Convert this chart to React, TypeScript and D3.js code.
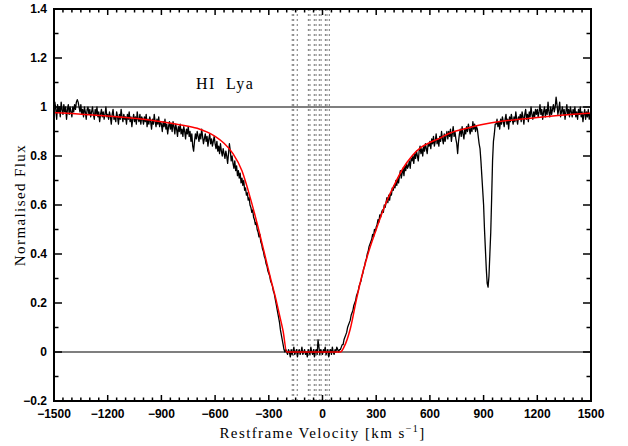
import React from "react";
import * as d3 from "d3";

// ---- Data ----
const velStart = -1500;
const velStep = 5;
// Observed normalised flux, one value every 5 km/s from -1500 to +1500 (20 values per row = 100 km/s)
const flux: number[] = [
  0.97, 1.02, 0.99, 0.95, 1.01, 0.98, 1.0, 0.96, 1.02, 0.99, 0.97, 1.01, 0.98, 1.0, 0.95, 0.99, 1.01, 0.97, 1.0, 0.98,
  0.96, 1.0, 0.98, 1.01, 0.99, 1.02, 1.03, 1.02, 1.0, 0.98, 1.01, 0.97, 0.99, 0.96, 1.0, 0.98, 0.95, 0.99, 1.0, 0.97,
  0.99, 0.96, 0.98, 1.0, 0.97, 0.95, 0.99, 0.97, 1.0, 0.96, 0.98, 0.94, 0.97, 0.99, 0.96, 0.98, 0.95, 0.97, 1.0, 0.96,
  0.97, 0.95, 0.98, 0.96, 0.93, 0.97, 0.99, 0.95, 0.96, 0.94, 0.98, 0.96, 0.93, 0.97, 0.95, 0.99, 0.96, 0.94, 0.97, 0.95,
  0.96, 0.93, 0.97, 0.95, 0.98, 0.94, 0.96, 0.92, 0.95, 0.97, 0.94, 0.96, 0.93, 0.98, 0.95, 0.94, 0.97, 0.93, 0.96, 0.95,
  0.93, 0.96, 0.94, 0.97, 0.92, 0.95, 0.93, 0.96, 0.94, 0.91, 0.95, 0.93, 0.97, 0.94, 0.92, 0.95, 0.93, 0.96, 0.92, 0.94,
  0.93, 0.9, 0.94, 0.92, 0.95, 0.91, 0.93, 0.89, 0.92, 0.94, 0.91, 0.93, 0.9, 0.94, 0.92, 0.89, 0.93, 0.91, 0.88, 0.92,
  0.9, 0.93, 0.89, 0.91, 0.88, 0.92, 0.9, 0.87, 0.91, 0.89, 0.92, 0.88, 0.9, 0.86, 0.89, 0.84, 0.82, 0.86, 0.89, 0.87,
  0.9, 0.88, 0.86, 0.89, 0.87, 0.91, 0.88, 0.85, 0.87, 0.89, 0.86, 0.88, 0.84, 0.87, 0.89, 0.85, 0.87, 0.84, 0.86, 0.88,
  0.85, 0.83, 0.86, 0.82, 0.84, 0.81, 0.85, 0.82, 0.8, 0.83, 0.81, 0.79, 0.82, 0.8, 0.77, 0.81, 0.85, 0.82, 0.78, 0.8,
  0.77, 0.75, 0.78, 0.74, 0.76, 0.72, 0.74, 0.71, 0.73, 0.69, 0.71, 0.68, 0.7, 0.66, 0.67, 0.64, 0.65, 0.62, 0.63, 0.6,
  0.59, 0.57, 0.58, 0.55, 0.54, 0.52, 0.53, 0.5, 0.49, 0.47, 0.48, 0.45, 0.44, 0.42, 0.41, 0.39, 0.38, 0.36, 0.35, 0.33,
  0.32, 0.31, 0.29, 0.28, 0.27, 0.25, 0.24, 0.22, 0.2, 0.18, 0.16, 0.14, 0.12, 0.09, 0.07, 0.05, 0.03, 0.01, 0.0, 0.01,
  0.0, -0.01, 0.01, 0.0, -0.02, 0.01, -0.01, 0.0, 0.02, -0.01, 0.0, 0.01, -0.02, 0.0, 0.01, -0.01, 0.0, 0.02, -0.01, 0.0,
  0.01, -0.01, 0.0, -0.02, 0.01, 0.0, -0.01, 0.02, 0.0, -0.01, 0.01, -0.02, 0.0, 0.01, -0.01, 0.05, 0.02, -0.01, 0.01, 0.0,
  -0.01, 0.01, 0.0, 0.02, -0.01, 0.0, 0.01, -0.02, 0.0, 0.01, -0.01, 0.02, 0.0, -0.01, 0.01, 0.0, 0.02, 0.01, 0.0, 0.01,
  0.01, 0.02, 0.03, 0.03, 0.05, 0.06, 0.07, 0.08, 0.1, 0.11, 0.12, 0.13, 0.15, 0.16, 0.17, 0.19, 0.2, 0.21, 0.23, 0.24,
  0.25, 0.27, 0.28, 0.29, 0.31, 0.32, 0.34, 0.35, 0.37, 0.38, 0.4, 0.41, 0.43, 0.44, 0.45, 0.46, 0.48, 0.47, 0.5, 0.49,
  0.51, 0.52, 0.54, 0.53, 0.56, 0.55, 0.57, 0.58, 0.57, 0.6, 0.59, 0.61, 0.63, 0.61, 0.64, 0.62, 0.65, 0.64, 0.67, 0.66,
  0.68, 0.67, 0.7, 0.68, 0.71, 0.69, 0.72, 0.74, 0.71, 0.73, 0.75, 0.72, 0.76, 0.74, 0.77, 0.75, 0.76, 0.78, 0.75, 0.79,
  0.78, 0.8, 0.77, 0.81, 0.79, 0.82, 0.8, 0.78, 0.82, 0.84, 0.81, 0.83, 0.8, 0.84, 0.82, 0.85, 0.83, 0.81, 0.85, 0.84,
  0.86, 0.83, 0.87, 0.85, 0.88, 0.84, 0.86, 0.89, 0.85, 0.87, 0.84, 0.88, 0.86, 0.9, 0.87, 0.85, 0.89, 0.86, 0.88, 0.9,
  0.87, 0.9, 0.88, 0.91, 0.86, 0.89, 0.92, 0.88, 0.9, 0.87, 0.85, 0.81, 0.86, 0.89, 0.91, 0.88, 0.92, 0.89, 0.87, 0.91,
  0.89, 0.92, 0.9, 0.93, 0.91, 0.89, 0.92, 0.9, 0.94, 0.91, 0.93, 0.9, 0.92, 0.91, 0.88, 0.85, 0.83, 0.78, 0.72, 0.66,
  0.6, 0.5, 0.42, 0.34, 0.28, 0.265, 0.31, 0.4, 0.49, 0.63, 0.78, 0.86, 0.89, 0.93, 0.93, 0.95, 0.92, 0.94, 0.91, 0.95,
  0.93, 0.96, 0.94, 0.92, 0.95, 0.97, 0.93, 0.95, 0.91, 0.96, 0.94, 0.97, 0.95, 0.93, 0.96, 0.94, 0.98, 0.95, 0.93, 0.96,
  0.95, 0.97, 0.94, 0.98, 0.96, 0.93, 0.97, 0.99, 0.95, 0.97, 0.94, 0.98, 0.96, 1.0, 0.97, 0.95, 0.98, 0.96, 0.99, 0.97,
  0.99, 0.96, 0.98, 1.01, 0.97, 0.99, 0.95, 0.98, 1.0, 0.96, 0.99, 0.97, 1.02, 0.98, 0.96, 1.0, 0.97, 0.99, 1.01, 0.98,
  1.0, 1.04, 1.01, 0.97, 0.99, 1.02, 0.96, 0.98, 1.0, 0.97, 0.99, 0.95, 0.98, 1.01, 0.97, 0.99, 0.96, 1.0, 0.98, 0.96,
  0.99, 0.97, 1.0, 0.96, 0.98, 0.95, 0.99, 0.97, 1.0, 0.96, 0.98, 0.94, 0.97, 0.99, 0.95, 0.98, 0.96, 0.99, 0.95, 0.97,
  0.96,
];

// Fitted model (red)
const modelVel = [
  -1500, -1400, -1300, -1200, -1100, -1000, -900, -800, -700, -600, -550, -500,
  -450, -400, -350, -320, -290, -260, -240, -220, -200, -100, 0, 100, 120, 155,
  190, 220, 250, 300, 350, 400, 450, 500, 550, 600, 656, 700, 800, 900, 1000,
  1100, 1200, 1300, 1400, 1500,
];
const modelFlux = [
  0.977, 0.973, 0.968, 0.963, 0.957, 0.95, 0.94, 0.928, 0.913, 0.88, 0.852, 0.81,
  0.74, 0.62, 0.48, 0.39, 0.3, 0.215, 0.15, 0.085, 0.0, 0.0, 0.0, 0.0, 0.02, 0.094,
  0.216, 0.31, 0.39, 0.5, 0.6, 0.68, 0.75, 0.8, 0.835, 0.855, 0.873, 0.89, 0.912,
  0.93, 0.942, 0.95, 0.957, 0.964, 0.97, 0.975,
];

// Velocity components (dotted vertical lines)
const componentVel = [-169, -161, -141, -79, -70, -46, -36, -18, -8, 16, 25, 38];

// Reference levels
const refLevels = [0, 1];

// Ticks
const xMajor = [-1500, -1200, -900, -600, -300, 0, 300, 600, 900, 1200, 1500];
const xTickLabels = ["\u22121500", "\u22121200", "\u2212900", "\u2212600", "\u2212300", "0", "300", "600", "900", "1200", "1500"];
const yMajor = [-0.2, 0, 0.2, 0.4, 0.6, 0.8, 1.0, 1.2, 1.4];
const yTickLabels = ["\u22120.2", "0", "0.2", "0.4", "0.6", "0.8", "1", "1.2", "1.4"];

const W = 628;
const H = 446;
const L = 54, R = 591, T = 9, B = 401;

export default function App() {
  const x = d3.scaleLinear().domain([-1500, 1500]).range([L, R]);
  const y = d3.scaleLinear().domain([-0.2, 1.4]).range([B, T]);

  const dataPts: [number, number][] = flux.map((f, i) => [velStart + i * velStep, f]);
  const dataLine = d3.line<[number, number]>().x((d) => x(d[0])).y((d) => y(d[1]))(dataPts) || "";
  const modelPts: [number, number][] = modelVel.map((v, i) => [v, modelFlux[i]]);
  const modelLine = d3
    .line<[number, number]>()
    .x((d) => x(d[0]))
    .y((d) => y(d[1]))
    .curve(d3.curveMonotoneX)(modelPts) || "";

  const xMinor = d3.range(-1500, 1501, 50).filter((v) => v % 300 !== 0);
  const yMinor = d3.range(-1, 14, 2).map((k) => k / 10);

  const ticks: JSX.Element[] = [];
  xMajor.forEach((v, i) => {
    ticks.push(<line key={"xb" + i} x1={x(v)} x2={x(v)} y1={B} y2={B - 6} />);
    ticks.push(<line key={"xt" + i} x1={x(v)} x2={x(v)} y1={T} y2={T + 6} />);
  });
  xMinor.forEach((v, i) => {
    ticks.push(<line key={"xbm" + i} x1={x(v)} x2={x(v)} y1={B} y2={B - 3.5} />);
    ticks.push(<line key={"xtm" + i} x1={x(v)} x2={x(v)} y1={T} y2={T + 3.5} />);
  });
  yMajor.forEach((v, i) => {
    ticks.push(<line key={"yl" + i} x1={L} x2={L + 8} y1={y(v)} y2={y(v)} />);
    ticks.push(<line key={"yr" + i} x1={R} x2={R - 8} y1={y(v)} y2={y(v)} />);
  });
  yMinor.forEach((v, i) => {
    ticks.push(<line key={"ylm" + i} x1={L} x2={L + 4.5} y1={y(v)} y2={y(v)} />);
    ticks.push(<line key={"yrm" + i} x1={R} x2={R - 4.5} y1={y(v)} y2={y(v)} />);
  });

  const tickFont = { fontFamily: "'Liberation Sans', Arial, sans-serif", fontWeight: 700, fontSize: 12 } as const;
  const titleFont = { fontFamily: "'Liberation Serif', 'DejaVu Serif', serif", fontSize: 15, letterSpacing: 1.4 } as const;

  return (
    <svg width={W} height={H} style={{ position: "absolute", left: 0, top: 0, background: "#fff" }}>
      <rect x={0} y={0} width={W} height={H} fill="#fff" />
      <defs>
        <clipPath id="plot">
          <rect x={L} y={T} width={R - L} height={B - T} />
        </clipPath>
      </defs>
      <g clipPath="url(#plot)">
        {componentVel.map((v, i) => (
          <line key={"c" + i} x1={x(v)} x2={x(v)} y1={T} y2={B} stroke="#777" strokeWidth={1} strokeDasharray="2 3" />
        ))}
        {refLevels.map((lv, i) => (
          <line key={"r" + i} x1={L} x2={R} y1={y(lv)} y2={y(lv)} stroke="#555" strokeWidth={1.3} />
        ))}
        <path d={dataLine} fill="none" stroke="#000" strokeWidth={1.3} strokeLinejoin="round" />
        <path d={modelLine} fill="none" stroke="#ff0000" strokeWidth={1.5} />
      </g>
      <g stroke="#000" strokeWidth={1.5}>{ticks}</g>
      <rect x={L} y={T} width={R - L} height={B - T} fill="none" stroke="#000" strokeWidth={2} />
      {xMajor.map((v, i) => (
        <text key={"xl" + i} x={x(v)} y={418} textAnchor="middle" style={tickFont}>
          {xTickLabels[i]}
        </text>
      ))}
      {yMajor.map((v, i) => (
        <text key={"yl" + i} x={47} y={y(v) + 4.3} textAnchor="end" style={tickFont}>
          {yTickLabels[i]}
        </text>
      ))}
      <text x={(L + R) / 2} y={438} textAnchor="middle" style={titleFont}>
        Restframe Velocity [km s<tspan dy={-6} fontSize={10}>{"\u22121"}</tspan>
        <tspan dy={6}>]</tspan>
      </text>
      <text transform={`translate(25,${(T + B) / 2}) rotate(-90)`} textAnchor="middle" style={titleFont}>
        Normalised Flux
      </text>
      <text x={196} y={89} style={{ ...titleFont, fontSize: 16 }}>
        HI<tspan x={226}>Lya</tspan>
      </text>
    </svg>
  );
}
